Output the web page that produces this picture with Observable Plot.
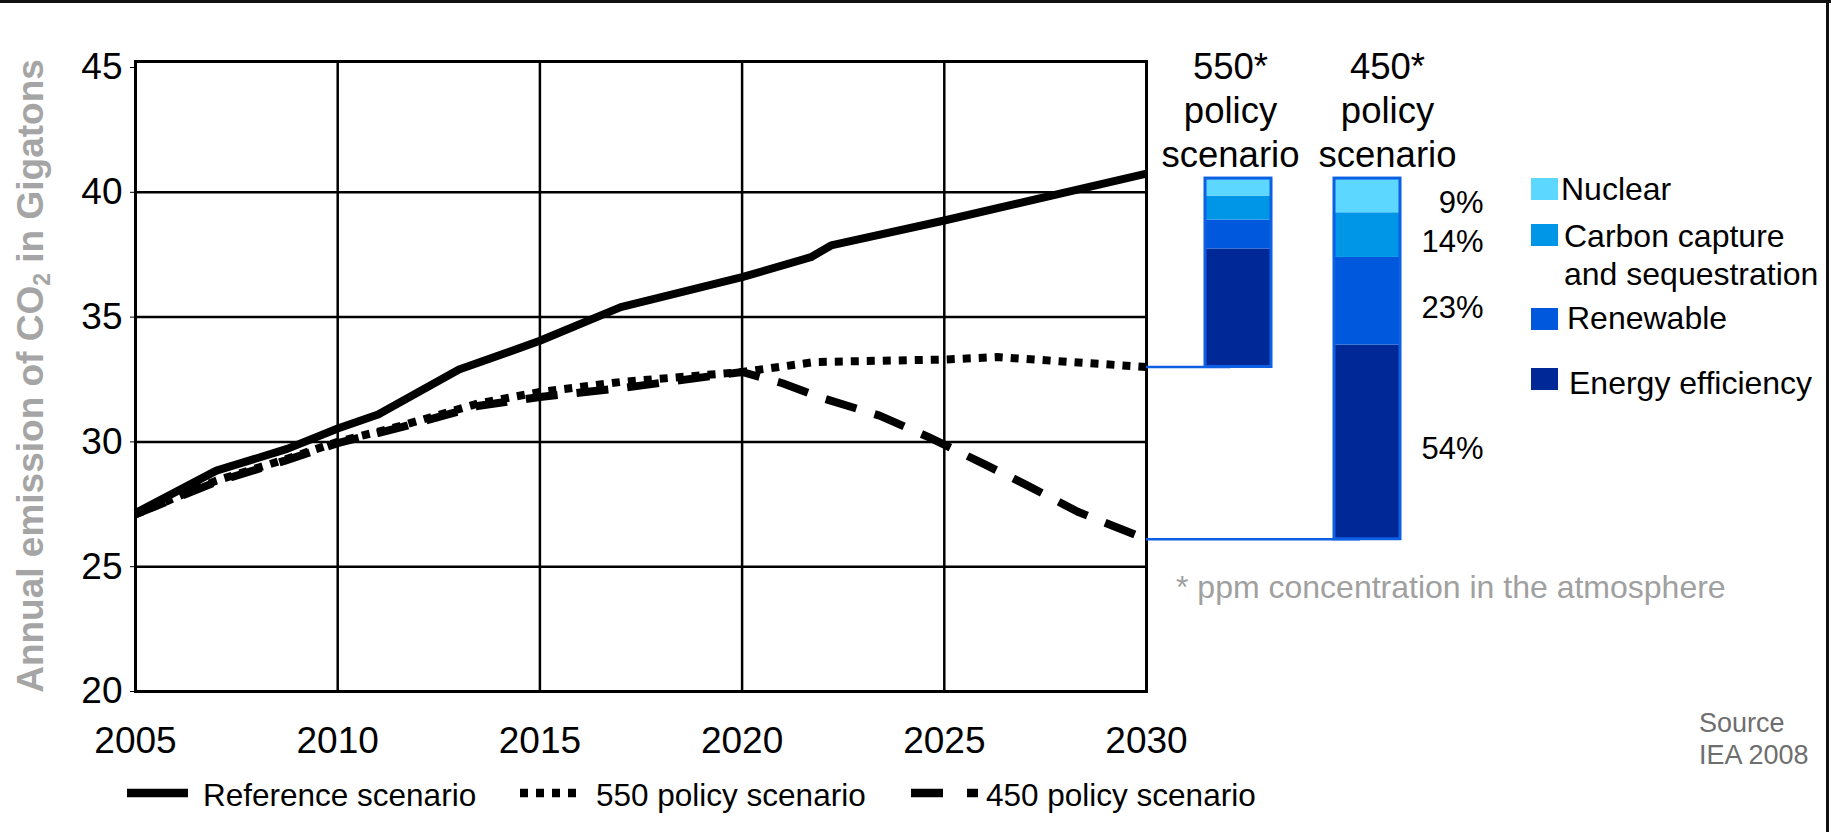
<!DOCTYPE html>
<html>
<head>
<meta charset="utf-8">
<script src="https://cdn.jsdelivr.net/npm/d3@7"></script>
<script src="https://cdn.jsdelivr.net/npm/@observablehq/plot@0.6"></script>
<style>
  html, body { margin: 0; padding: 0; background: #fff; }
  #chart { position: relative; width: 1831px; height: 832px; overflow: hidden; background: #fff;
           font-family: "Liberation Sans", Arial, Helvetica, sans-serif; }
  #chart > svg { position: absolute; left: 0; top: 0; overflow: visible; }
  .lbl { position: absolute; white-space: pre; }
</style>
</head>
<body>
<div id="chart"></div>
<script>
// ---------------- data ----------------
const lineSeries = ["Reference scenario", "550 policy scenario", "450 policy scenario"];

const refYears  = [2005, 2007, 2008.75, 2010, 2011, 2013, 2015, 2017, 2020, 2021.7, 2022.2, 2025, 2030];
const refValues = [27.15, 28.85, 29.72, 30.54, 31.1, 32.9, 34.05, 35.4, 36.6, 37.4, 37.87, 38.87, 40.75];

const p550Years  = [2005, 2007, 2008.7, 2010, 2011.6, 2013.5, 2015, 2017, 2020, 2021.8, 2025, 2026.3, 2030];
const p550Values = [27.1, 28.45, 29.3, 30.0, 30.66, 31.55, 32.0, 32.4, 32.8, 33.2, 33.3, 33.4, 33.0];

const p450Years  = [2005, 2007, 2008.7, 2010, 2011.6, 2013.5, 2015, 2017, 2020, 2021, 2022, 2023.4, 2024.6, 2026, 2027, 2028.3, 2030];
const p450Values = [27.1, 28.4, 29.25, 29.95, 30.6, 31.45, 31.8, 32.15, 32.8, 32.35, 31.75, 31.05, 30.2, 29.1, 28.3, 27.2, 26.1];

const xTicks = [2005, 2010, 2015, 2020, 2025, 2030];
const yTicks = [20, 25, 30, 35, 40, 45];

const barScenarios = ["550", "450"];
const barHeaders = ["550*\npolicy\nscenario", "450*\npolicy\nscenario"];
const segments = ["Energy efficiency", "Renewable", "Carbon capture\nand sequestration", "Nuclear"];
const seg550 = [4.73, 1.16, 0.96, 0.70];
const seg450 = [7.78, 3.51, 1.79, 1.37];
const pct450 = ["54%", "23%", "14%", "9%"];
const segColors = ["#002896", "#0058dc", "#0096e8", "#5cd7ff"];

const footnote = "* ppm concentration in the atmosphere";
const sourceLines = ["Source", "IEA 2008"];
const yTitle = ["Annual emission of CO", "2", " in Gigatons"];

// ---------------- tables ----------------
const toRows = (years, values, series) => years.map((year, i) => ({series, year, value: values[i]}));
const refRows = toRows(refYears, refValues, lineSeries[0]);
const p550Rows = toRows(p550Years, p550Values, lineSeries[1]);
const p450Rows = toRows(p450Years, p450Values, lineSeries[2]);

const barBases = [p550Values[p550Values.length - 1], p450Values[p450Values.length - 1]];
const segValues = [seg550, seg450];
const barRows = [];
barScenarios.forEach((s, j) => {
  let acc = barBases[j];
  segValues[j].forEach((v, k) => {
    barRows.push({scenario: s, segment: segments[k], y1: acc, y2: acc + v, color: segColors[k],
                  pct: j === 1 ? pct450[k] : null});
    acc += v;
  });
});
const barTotals = barScenarios.map((s, j) => ({
  scenario: s, base: barBases[j], top: barBases[j] + d3.sum(segValues[j]), header: barHeaders[j]
}));

// ---------------- layout ----------------
const W = 1831, H = 832;
const FONT = '"Liberation Sans", Arial, Helvetica, sans-serif';
const BLUE = "#0d5fe3";
const LW = 8;
const chart = document.getElementById("chart");

const main = Plot.plot({
  width: W, height: H,
  marginLeft: 135, marginRight: 685, marginTop: 67, marginBottom: 141,
  style: {fontFamily: FONT, fontSize: "37px", color: "#000", background: "transparent", overflow: "visible"},
  x: {domain: [2005, 2030], ticks: xTicks, tickFormat: d => String(d), tickSize: 0, tickPadding: 35, label: null},
  y: {domain: [20, 45], ticks: yTicks, tickSize: 5, tickPadding: 8, label: null},
  marks: [
    Plot.ruleX(xTicks.slice(1, -1), {stroke: "#000", strokeWidth: 2.5, insetTop: -6}),
    Plot.ruleY(yTicks.slice(1, -1), {stroke: "#000", strokeWidth: 2.5}),
    Plot.frame({stroke: "#000", strokeWidth: 3, insetTop: -6}),
    Plot.line(refRows, {x: "year", y: "value", stroke: "#000", strokeWidth: LW, strokeLinejoin: "round", strokeLinecap: "butt"}),
    Plot.line(p550Rows, {x: "year", y: "value", stroke: "#000", strokeWidth: LW, strokeDasharray: "8,8", strokeLinecap: "butt", strokeLinejoin: "miter"}),
    Plot.line(p450Rows, {x: "year", y: "value", stroke: "#000", strokeWidth: LW, strokeDasharray: "32,19", strokeLinecap: "butt", strokeLinejoin: "miter"})
  ]
});
chart.appendChild(main);

// y axis title with subscript
{
  const t = d3.select(main).append("text")
    .attr("transform", "translate(43,376) rotate(-90)")
    .attr("text-anchor", "middle")
    .attr("fill", "#a5a5a5")
    .attr("font-weight", "bold")
    .attr("font-family", FONT)
    .attr("font-size", 37);
  t.append("tspan").text(yTitle[0]);
  t.append("tspan").attr("font-size", 23).attr("dy", 7).text(yTitle[1]);
  t.append("tspan").attr("dy", -7).text(yTitle[2]);
}

const bars = Plot.plot({
  width: W, height: H,
  marginLeft: 1146, marginRight: 371, marginTop: 67, marginBottom: 141,
  style: {fontFamily: FONT, fontSize: "36px", color: "#000", background: "transparent", overflow: "visible"},
  x: {type: "band", domain: barScenarios, paddingInner: 0.488, paddingOuter: 0.461, axis: null},
  y: {domain: [20, 45], axis: null},
  color: {type: "identity"},
  marks: [
    // connectors from the end of each policy line to its bar (ends hidden under the bar)
    Plot.ruleY(barTotals.slice(0, 1), {y: "base", stroke: BLUE, strokeWidth: 2.5, insetRight: 230}),
    Plot.ruleY(barTotals.slice(1, 2), {y: "base", stroke: BLUE, strokeWidth: 2.5, insetRight: 100}),
    Plot.barY(barRows, {x: "scenario", y1: "y1", y2: "y2", fill: "color"}),
    Plot.barY(barTotals, {x: "scenario", y1: "base", y2: "top", fill: "none", stroke: BLUE, strokeWidth: 3}),
    Plot.text(barRows.filter(d => d.pct), {x: "scenario", y: d => (d.y1 + d.y2) / 2, text: "pct",
      textAnchor: "end", dx: 116, dy: 7, fontSize: 31}),
    Plot.text(barTotals.slice(0, 1), {x: "scenario", text: "header", frameAnchor: "top", lineAnchor: "top",
      lineHeight: 1.21, dy: -20, dx: -8, fontSize: 36.5}),
    Plot.text(barTotals.slice(1, 2), {x: "scenario", text: "header", frameAnchor: "top", lineAnchor: "top",
      lineHeight: 1.21, dy: -20, dx: 20, fontSize: 36.5})
  ]
});
chart.appendChild(bars);

// ---------------- html overlays ----------------
function label(text, x, cy, size, color = "#000") {
  const d = document.createElement("div");
  d.className = "lbl";
  d.textContent = text;
  Object.assign(d.style, {left: x + "px", top: (cy - size / 2) + "px", fontSize: size + "px",
    lineHeight: size + "px", color});
  chart.appendChild(d);
  return d;
}
function box(x, y, w, h, color) {
  const d = document.createElement("div");
  Object.assign(d.style, {position: "absolute", left: x + "px", top: y + "px", width: w + "px", height: h + "px", background: color});
  chart.appendChild(d);
}

// border lines of the slide
box(0, 0, W, 3, "#111");
box(1826, 0, 3, H, "#111");

// segment legend (top to bottom: nuclear, CCS, renewable, efficiency)
const legendLayout = [
  {sq: 368, tx: 1569, cy: 383},
  {sq: 308, tx: 1567, cy: 318},
  {sq: 224, tx: 1564, cy: 236},
  {sq: 178, tx: 1561, cy: 189}
];
segments.forEach((name, k) => {
  const L = legendLayout[k];
  box(1531, L.sq, 27, 22, segColors[k]);
  name.split("\n").forEach((line, i) => label(line, L.tx, L.cy + i * 38, 32));
});

// footnote & source
label(footnote, 1176, 587, 32, "#a0a0a0");
sourceLines.forEach((s, i) => label(s, 1699, 723 + i * 32, 27, "#6e6e6e"));

// line legend at bottom
const lg = d3.select(chart).append("svg")
  .attr("width", W).attr("height", H)
  .style("position", "absolute").style("left", 0).style("top", 0).style("pointer-events", "none");
const lineLegend = [
  {x1: 127, x2: 188, dash: null, tx: 203},
  {x1: 520, x2: 580, dash: "8,8", tx: 596},
  {x1: 911, x2: 979, dash: "32,24,11,100", tx: 986}
];
lineSeries.forEach((name, i) => {
  const L = lineLegend[i];
  lg.append("line").attr("x1", L.x1).attr("x2", L.x2).attr("y1", 793).attr("y2", 793)
    .attr("stroke", "#000").attr("stroke-width", 8.5)
    .attr("stroke-dasharray", L.dash);
  label(name, L.tx, 796, 31.5);
});
</script>
</body>
</html>
